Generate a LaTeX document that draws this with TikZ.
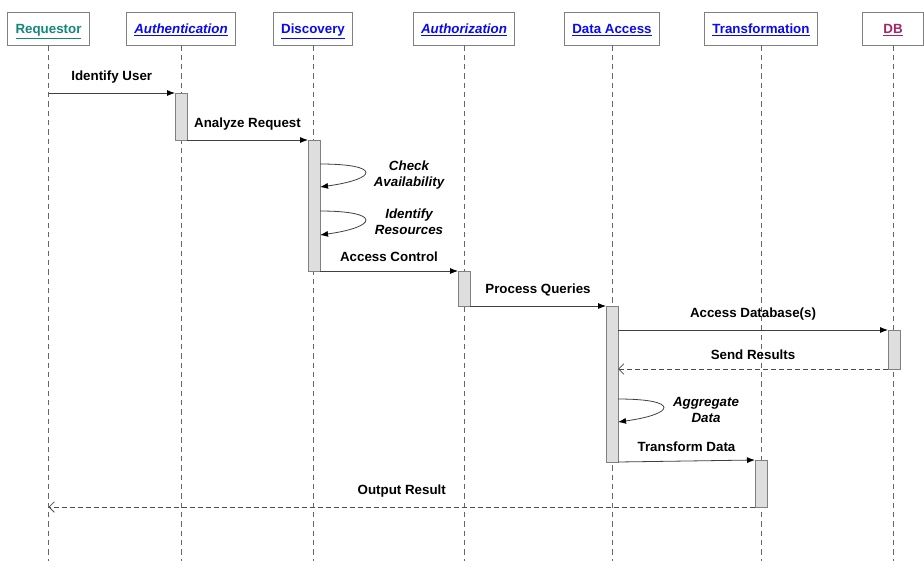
\documentclass[tikz,border=0pt]{standalone}
\usepackage{fontspec}
\setmainfont{Liberation Sans}
\usetikzlibrary{arrows.meta,positioning}
\definecolor{reqteal}{RGB}{20,135,125}
\definecolor{linkblue}{RGB}{10,10,240}
\definecolor{dbplum}{RGB}{160,40,105}
\definecolor{barfill}{RGB}{222,222,222}
\tikzset{
  head/.style={draw=black!50, fill=white, line width=0.7pt, minimum height=24.75pt, inner xsep=6pt,
               text height=7pt, text depth=0pt, font=\bfseries},
  life/.style={draw=black!60, dash pattern=on 4pt off 3pt, line width=0.5pt},
  act/.style={draw=black!50, fill=barfill, minimum width=9pt, inner sep=0pt, outer sep=0pt, line width=0.6pt},
  call/.style={draw=black!75, line width=0.6pt, -{Latex[length=6pt,width=4.5pt,black]}},
  reply/.style={draw=black!70, dash pattern=on 4pt off 2pt, line width=0.6pt, -{Straight Barb[length=4pt,width=8pt]}},
  msg/.style={font=\bfseries, inner sep=1pt, above=6pt},
  note/.style={font=\bfseries\itshape, align=center, inner sep=0pt}
}
\begin{document}
\begin{tikzpicture}[x=0.75pt, y=-0.75pt, font=\fontsize{9.8}{11.6}\selectfont]
  \useasboundingbox (0,0) rectangle (924,561);
  \node[head] (req) at (48.5,28.5) {\textcolor{reqteal}{\underline{Requestor}}};
  \node[head] (auth) at (181,28.5) {\textcolor{linkblue}{\itshape\underline{Authentication}}};
  \node[head] (disc) at (313,28.5) {\textcolor{linkblue}{\underline{Discovery}}};
  \node[head] (authz) at (464,28.5) {\textcolor{linkblue}{\itshape\underline{Authorization}}};
  \node[head] (data) at (612,28.5) {\textcolor{linkblue}{\underline{Data Access}}};
  \node[head] (trans) at (761,28.5) {\textcolor{linkblue}{\underline{Transformation}}};
  \node[head, minimum width=46pt] (db) at (893,28.5) {\textcolor{dbplum}{\underline{DB}}};

  \foreach \n in {req,auth,disc,authz,data,trans,db}
  {
    \coordinate (\n-end) at (\n.south |- 0,561);
    \draw[life] (\n.south) -- (\n-end);
  }

  \foreach \n/\x/\a/\b in {actAuth/181/93/140, actDisc/314/140/271, actAuthz/464/271/306,
                           actData/612/306/462, actDB/894/330/369, actTrans/761/460/507}
    \node[act, minimum height={(\b-\a)*0.75pt}] (\n) at (\x,{(\a+\b)/2}) {};

  \draw[call] (req-end |- actAuth.north) -- node[msg] {Identify User} (actAuth.north west);
  \draw[call] (actAuth.south east) -- node[msg] {Analyze Request} (actDisc.north west);
  \draw[call] (actDisc.east |- 0,164) .. controls +(62,0) and +(58,-8) .. (actDisc.east |- 0,187);
  \node[note] (chk) at (409,175) {Check\\Availability};
  \draw[call] (actDisc.east |- 0,211) .. controls +(62,0) and +(58,-8) .. (actDisc.east |- 0,235);
  \node[note] (idr) at (409,222) {Identify\\Resources};
  \draw[call] (actDisc.south east) -- node[msg] {Access Control} (actAuthz.north west);
  \draw[call] (actAuthz.south east) -- node[msg] {Process Queries} (actData.north west);
  \draw[call] (actData.east |- actDB.north) -- node[msg] {Access Database(s)} (actDB.north west);
  \draw[reply] (actDB.south west) -- node[msg] {Send Results} (actData.east |- actDB.south);
  \draw[call] (actData.east |- 0,399) .. controls +(62,0) and +(58,-8) .. (actData.east |- 0,422);
  \node[note] (agg) at (706,410) {Aggregate\\Data};
  \draw[call] (actData.south east) -- node[msg] {Transform Data} (actTrans.north west);
  \draw[reply] (actTrans.south west) -- node[msg] {Output Result} (req-end |- actTrans.south);
\end{tikzpicture}
\end{document}
